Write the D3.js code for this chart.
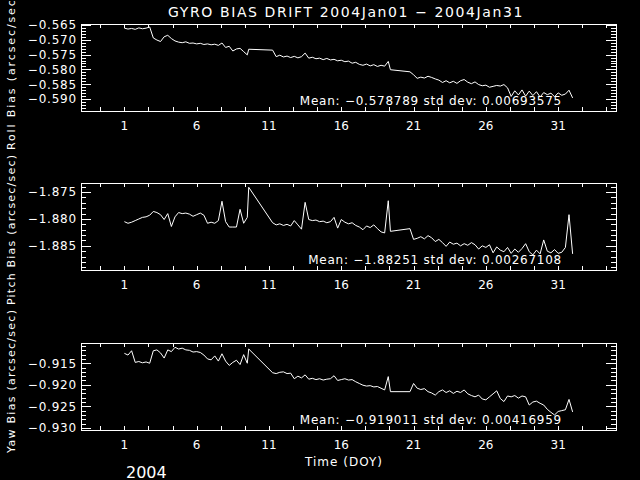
<!DOCTYPE html>
<html>
<head>
<meta charset="utf-8">
<script src="https://cdn.jsdelivr.net/npm/d3@7"></script>
<style>
  html, body { margin: 0; padding: 0; background: #000; }
  svg { display: block; }
  text { fill: #fff; font-family: "DejaVu Sans", sans-serif; }
</style>
</head>
<body>
<div id="chart"></div>
<script>
// sample times (day of year)
const days = [
  1.00, 1.25, 1.50, 1.75, 2.00, 2.25, 2.50, 2.75, 3.00, 3.25, 3.50, 3.75,
  4.00, 4.25, 4.50, 4.75, 5.00, 5.25, 5.50, 5.75, 6.00, 6.25, 6.50, 6.75,
  7.00, 7.25, 7.50, 7.75, 8.00, 8.25, 8.50, 8.75, 9.00, 9.25, 9.50, 9.60,
  11.25, 11.50, 11.75, 12.00, 12.25, 12.50, 12.75, 13.00, 13.25, 13.50, 13.75,
  14.00, 14.25, 14.50, 14.75, 15.00, 15.25, 15.50, 15.75, 16.00, 16.25, 16.50,
  16.75, 17.00, 17.25, 17.50, 17.75, 18.00, 18.25, 18.50, 18.75, 19.00, 19.25, 19.40,
  20.75, 21.00, 21.25, 21.50, 21.75, 22.00, 22.25, 22.50, 22.75, 23.00, 23.25,
  23.50, 23.75, 24.00, 24.25, 24.50, 24.75, 25.00, 25.25, 25.50, 25.75, 26.00,
  26.25, 26.50, 26.75, 27.00, 27.25, 27.50, 27.75, 28.00, 28.25, 28.50, 28.75,
  29.00, 29.25, 29.50, 29.75, 30.00, 30.25, 30.50, 30.75, 31.00, 31.25, 31.50,
  31.75, 32.00
];

const rollBias = [
  -0.5661, -0.5664, -0.5662, -0.5665, -0.5660, -0.5663, -0.5661, -0.5657, -0.5694, -0.5701, -0.5706, -0.5690,
  -0.5685, -0.5696, -0.5704, -0.5708, -0.5710, -0.5707, -0.5712, -0.5711, -0.5714, -0.5712, -0.5716, -0.5714,
  -0.5717, -0.5715, -0.5719, -0.5711, -0.5726, -0.5722, -0.5738, -0.5731, -0.5729, -0.5740, -0.5751, -0.5732,
  -0.5735, -0.5757, -0.5752, -0.5758, -0.5755, -0.5760, -0.5756, -0.5761, -0.5757, -0.5745, -0.5762,
  -0.5759, -0.5764, -0.5762, -0.5767, -0.5763, -0.5768, -0.5766, -0.5771, -0.5769, -0.5774, -0.5772,
  -0.5779, -0.5776, -0.5783, -0.5786, -0.5782, -0.5788, -0.5784, -0.5790, -0.5786, -0.5789, -0.5773, -0.5801,
  -0.5808, -0.5818, -0.5830, -0.5826, -0.5829, -0.5823, -0.5827, -0.5832, -0.5836, -0.5844, -0.5838,
  -0.5845, -0.5840, -0.5847, -0.5838, -0.5834, -0.5843, -0.5848, -0.5842, -0.5851, -0.5855, -0.5853,
  -0.5860, -0.5857, -0.5854, -0.5856, -0.5851, -0.5862, -0.5891, -0.5872, -0.5886, -0.5869, -0.5890,
  -0.5873, -0.5888, -0.5875, -0.5893, -0.5878, -0.5885, -0.5880, -0.5892, -0.5879, -0.5887, -0.5883,
  -0.5870, -0.5896
];

const pitchBias = [
  -1.8805, -1.8808, -1.8806, -1.8803, -1.8800, -1.8797, -1.8796, -1.8793, -1.8786, -1.8788, -1.8792, -1.8801,
  -1.8790, -1.8814, -1.8796, -1.8788, -1.8790, -1.8789, -1.8791, -1.8795, -1.8792, -1.8789, -1.8793, -1.8808,
  -1.8806, -1.8808, -1.8803, -1.8767, -1.8805, -1.8815, -1.8815, -1.8815, -1.8782, -1.8808, -1.8797, -1.8741,
  -1.8807, -1.8811, -1.8809, -1.8812, -1.8810, -1.8813, -1.8803, -1.8811, -1.8819, -1.8769, -1.8801,
  -1.8803, -1.8802, -1.8805, -1.8804, -1.8807, -1.8805, -1.8797, -1.8817, -1.8801, -1.8806, -1.8809,
  -1.8807, -1.8812, -1.8815, -1.8820, -1.8813, -1.8816, -1.8811, -1.8818, -1.8824, -1.8826, -1.8766, -1.8823,
  -1.8818, -1.8838, -1.8836, -1.8833, -1.8837, -1.8831, -1.8835, -1.8842, -1.8838, -1.8844, -1.8851,
  -1.8843, -1.8847, -1.8845, -1.8850, -1.8846, -1.8849, -1.8844, -1.8848, -1.8856, -1.8850, -1.8853,
  -1.8848, -1.8863, -1.8852, -1.8858, -1.8861, -1.8853, -1.8864, -1.8856, -1.8862, -1.8855, -1.8846,
  -1.8861, -1.8867, -1.8858, -1.8865, -1.8839, -1.8860, -1.8863, -1.8857, -1.8864, -1.8862, -1.8853,
  -1.8792, -1.8865
];

const yawBias = [
  -0.9127, -0.9131, -0.9121, -0.9148, -0.9146, -0.9149, -0.9147, -0.9150, -0.9121, -0.9119, -0.9126, -0.9138,
  -0.9119, -0.9123, -0.9113, -0.9117, -0.9115, -0.9119, -0.9120, -0.9124, -0.9123, -0.9125, -0.9131, -0.9140,
  -0.9142, -0.9133, -0.9145, -0.9128, -0.9145, -0.9155, -0.9148, -0.9143, -0.9153, -0.9130, -0.9150, -0.9117,
  -0.9172, -0.9174, -0.9171, -0.9170, -0.9174, -0.9173, -0.9186, -0.9180, -0.9184, -0.9177, -0.9187,
  -0.9185, -0.9188, -0.9186, -0.9189, -0.9187, -0.9186, -0.9179, -0.9190, -0.9188, -0.9186, -0.9189,
  -0.9188, -0.9193, -0.9197, -0.9201, -0.9203, -0.9202, -0.9205, -0.9204, -0.9208, -0.9212, -0.9181, -0.9216,
  -0.9216, -0.9197, -0.9208, -0.9211, -0.9209, -0.9216, -0.9219, -0.9224, -0.9216, -0.9212, -0.9218,
  -0.9214, -0.9220, -0.9215, -0.9218, -0.9212, -0.9221, -0.9225, -0.9228, -0.9224, -0.9233, -0.9235,
  -0.9228, -0.9221, -0.9214, -0.9232, -0.9239, -0.9226, -0.9228, -0.9225, -0.9231, -0.9226, -0.9228,
  -0.9247, -0.9240, -0.9238, -0.9243, -0.9247, -0.9257, -0.9264, -0.9270, -0.9262, -0.9260, -0.9258,
  -0.9234, -0.9263
];

const dayTicks = [1, 6, 11, 16, 21, 26, 31];
const rollTicks = [-0.565, -0.570, -0.575, -0.580, -0.585, -0.590];
const pitchTicks = [-1.875, -1.880, -1.885];
const yawTicks = [-0.915, -0.920, -0.925, -0.930];

const axisNames = ["Roll Bias (arcsec/sec)", "Pitch Bias (arcsec/sec)", "Yaw Bias (arcsec/sec)"];
const meanLabels = ["\u22120.578789", "\u22121.88251", "\u22120.919011"];
const stdLabels = ["0.00693575", "0.00267108", "0.00416959"];

// canvas
const width = 640;
const height = 480;
const left = 81;
const right = 616;

const svg = d3.select("#chart")
  .append("svg")
  .attr("width", width)
  .attr("height", height);

svg.append("rect")
  .attr("width", width)
  .attr("height", height)
  .attr("fill", "#000");

const x = d3.scaleLinear().domain([-2, 35]).range([left, right]);
const xMinor = d3.range(-1, 21).map(k => 1 + k * 5 / 3);

const panels = [
  { values: rollBias, ticks: rollTicks, domain: [-0.5940, -0.5647], top: 24, bottom: 111, labelStart: 150, labelLen: 156 },
  { values: pitchBias, ticks: pitchTicks, domain: [-1.8895, -1.8733], top: 183, bottom: 270, labelStart: 305, labelLen: 150 },
  { values: yawBias, ticks: yawTicks, domain: [-0.9305, -0.9103], top: 343, bottom: 430, labelStart: 453, labelLen: 143 }
];

const fmt = d3.format(".3f");

panels.forEach((p, i) => {
  const y = d3.scaleLinear().domain(p.domain).range([p.bottom, p.top]);
  const g = svg.append("g").attr("shape-rendering", "crispEdges");

  // frame
  g.append("rect")
    .attr("x", left + 0.5)
    .attr("y", p.top + 0.5)
    .attr("width", right - left)
    .attr("height", p.bottom - p.top)
    .attr("fill", "none")
    .attr("stroke", "#fff");

  // x ticks, top and bottom
  xMinor.forEach(d => {
    const px = Math.round(x(d)) + 0.5;
    g.append("line").attr("x1", px).attr("x2", px)
      .attr("y1", p.bottom).attr("y2", p.bottom - 4).attr("stroke", "#fff");
    g.append("line").attr("x1", px).attr("x2", px)
      .attr("y1", p.top).attr("y2", p.top + 4).attr("stroke", "#fff");
  });

  // y ticks, minor every 0.001
  const span = p.domain[1] - p.domain[0];
  const minor = y.ticks(Math.round(span * 1000));
  minor.forEach(v => {
    const py = Math.round(y(v)) + 0.5;
    const isMajor = p.ticks.some(t => Math.abs(t - v) < 1e-6);
    const len = isMajor ? 10 : 5;
    g.append("line").attr("x1", left).attr("x2", left + len)
      .attr("y1", py).attr("y2", py).attr("stroke", "#fff");
    g.append("line").attr("x1", right).attr("x2", right - len)
      .attr("y1", py).attr("y2", py).attr("stroke", "#fff");
  });

  // tick labels
  svg.append("g").selectAll("text")
    .data(p.ticks)
    .enter().append("text")
    .attr("x", left - 4)
    .attr("y", d => y(d))
    .attr("dy", "0.36em")
    .attr("text-anchor", "end")
    .style("font-size", "12px")
    .style("letter-spacing", "0.8px")
    .text(d => fmt(d));

  svg.append("g").selectAll("text")
    .data(dayTicks)
    .enter().append("text")
    .attr("x", d => x(d))
    .attr("y", p.bottom + 19)
    .attr("text-anchor", "middle")
    .style("font-size", "12px")
    .text(d => d);

  // the series
  const line = d3.line()
    .x((d, j) => x(days[j]))
    .y(d => y(d));

  svg.append("path")
    .datum(p.values)
    .attr("d", line)
    .attr("fill", "none")
    .attr("stroke", "#fff")
    .attr("stroke-width", 1);

  // mean / std dev
  svg.append("text")
    .attr("x", 562)
    .attr("y", p.bottom - 6)
    .attr("text-anchor", "end")
    .style("font-size", "12px")
    .style("letter-spacing", "0.75px")
    .text("Mean: " + meanLabels[i] + " std dev: " + stdLabels[i]);

  // y title
  svg.append("text")
    .attr("transform", "translate(15," + p.labelStart + ") rotate(-90)")
    .attr("text-anchor", "start")
    .attr("textLength", p.labelLen)
    .attr("lengthAdjust", "spacing")
    .style("font-size", "11px")
    .text(axisNames[i]);
});

svg.append("text")
  .attr("x", 346)
  .attr("y", 17)
  .attr("text-anchor", "middle")
  .style("font-size", "14px")
  .style("letter-spacing", "1.6px")
  .text("GYRO BIAS DRIFT 2004Jan01 \u2212 2004Jan31");

svg.append("text")
  .attr("x", 344)
  .attr("y", 466)
  .attr("text-anchor", "middle")
  .style("font-size", "12px")
  .style("letter-spacing", "1px")
  .text("Time (DOY)");

svg.append("text")
  .attr("x", 126)
  .attr("y", 478)
  .style("font-size", "16px")
  .text("2004");
</script>
</body>
</html>
